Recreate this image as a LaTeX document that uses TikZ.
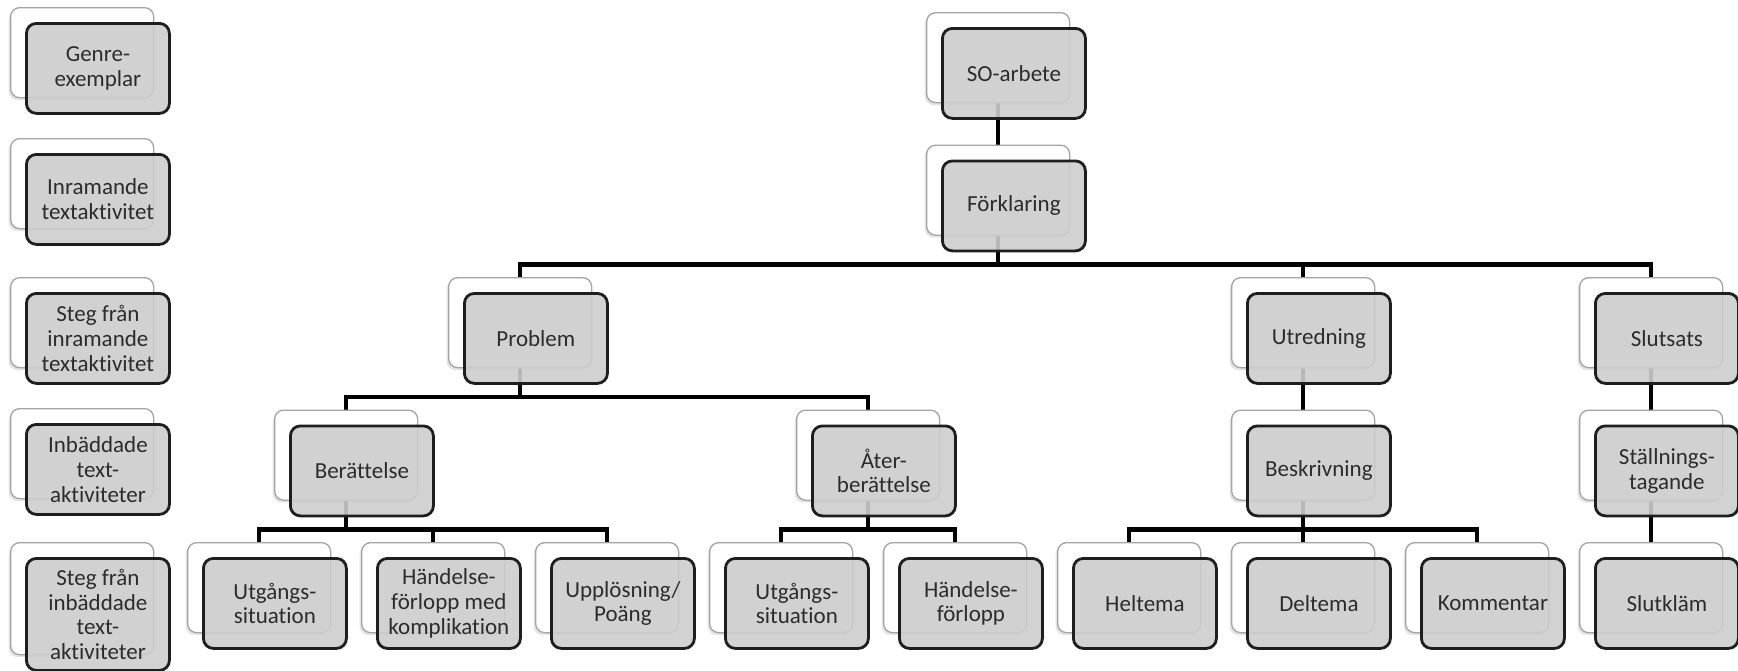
\documentclass[tikz,border=0pt]{standalone}
\usepackage{fontspec}
\setmainfont{Carlito}[Ligatures=NoCommon]
\usetikzlibrary{calc,shadows}
\pgfdeclarelayer{links}
\pgfsetlayers{links,main}

\definecolor{cardfill}{HTML}{CDCDCD}
\definecolor{cardedge}{HTML}{1E1E1E}
\definecolor{backedge}{HTML}{A4A4A4}
\definecolor{labeltext}{HTML}{2C2C2C}

\tikzset{
  backcard/.style={draw=backedge, line width=1.3pt, fill=white, rounded corners=9pt,
    minimum width=143pt, minimum height=90pt, anchor=north west, inner sep=0pt,
    drop shadow={shadow xshift=-2pt, shadow yshift=-2.5pt, opacity=.22}},
  frontcard/.style={draw=cardedge, line width=2.8pt, fill=cardfill, fill opacity=.9,
    text opacity=1, rounded corners=10pt, minimum width=143pt, minimum height=90pt,
    anchor=north west, align=center, inner sep=2pt, text=labeltext,
    font=\fontsize{23}{24.7}\selectfont},
  tall/.style={minimum height=112pt},
  conn/.style={line width=4.5pt, draw=black},
}

% a card: white back sheet (name b) and grey front sheet (name) shifted 15pt
\newcommand\card[5][]{%
  \node[backcard,#1] (#2b) at (#3,#4) {};
  \node[frontcard,#1] (#2) at (#3+15,#4+15) {#5};}

\begin{document}
\begin{tikzpicture}[x=1pt,y=-1pt]
\useasboundingbox (0,0) rectangle (1738,670);

% legend column
\card{lg1}{10}{7}{Genre-\\exemplar}
\card{lg2}{10}{138}{Inramande\\textaktivitet}
\card{lg3}{10}{277}{Steg från\\inramande\\textaktivitet}
\card{lg4}{10}{408}{Inbäddade\\text-\\aktiviteter}
\card[tall]{lg5}{10}{542}{Steg från\\inbäddade\\text-\\aktiviteter}

% tree
\card{so}{926}{12}{SO-arbete}
\card{fk}{926}{144.5}{Förklaring}

\card{pr}{448}{277}{Problem}
\card{ut}{1231}{277}{Utredning}
\card{sl}{1579}{277}{Slutsats}

\card{ber}{274}{409.5}{Berättelse}
\card{ater}{796}{409.5}{Åter-\\berättelse}
\card{besk}{1231}{409.5}{Beskrivning}
\card{st}{1579}{409.5}{Ställnings-\\tagande}

\card{ua}{187}{542}{Utgångs-\\situation}
\card{ha}{361}{542}{Händelse-\\förlopp med\\komplikation}
\card{up}{535}{542}{Upplösning/\\Poäng}
\card{ub}{709}{542}{Utgångs-\\situation}
\card{hb}{883}{542}{Händelse-\\förlopp}
\card{he}{1057}{542}{Heltema}
\card{de}{1231}{542}{Deltema}
\card{ko}{1405}{542}{Kommentar}
\card{sk}{1579}{542}{Slutkläm}

% connectors, behind the cards
\begin{pgfonlayer}{links}
  \draw[conn] (sob.south) -- (fkb.north);

  \coordinate (fkbar) at ($(fkb.south)+(0,28.75)$);
  \draw[conn] (fkb.south) -- (fkbar);
  \draw[conn] (prb.north) |- (fkbar) -| (slb.north);
  \draw[conn] (fkbar) -| (utb.north);

  \coordinate (prbar) at ($(prb.south)+(0,28.75)$);
  \draw[conn] (prb.south) -- (prbar);
  \draw[conn] (berb.north) |- (prbar) -| (aterb.north);

  \coordinate (berbar) at ($(berb.south)+(0,28.75)$);
  \draw[conn] (berb.south) -- (berbar);
  \draw[conn] (uab.north) |- (berbar) -| (upb.north);
  \draw[conn] (berbar) -| (hab.north);

  \coordinate (aterbar) at ($(aterb.south)+(0,28.75)$);
  \draw[conn] (aterb.south) -- (aterbar);
  \draw[conn] (ubb.north) |- (aterbar) -| (hbb.north);

  \draw[conn] (utb.south) -- (beskb.north);
  \coordinate (beskbar) at ($(beskb.south)+(0,28.75)$);
  \draw[conn] (beskb.south) -- (beskbar);
  \draw[conn] (heb.north) |- (beskbar) -| (kob.north);
  \draw[conn] (beskbar) -| (deb.north);

  \draw[conn] (slb.south) -- (stb.north);
  \draw[conn] (stb.south) -- (skb.north);
\end{pgfonlayer}
\end{tikzpicture}
\end{document}
